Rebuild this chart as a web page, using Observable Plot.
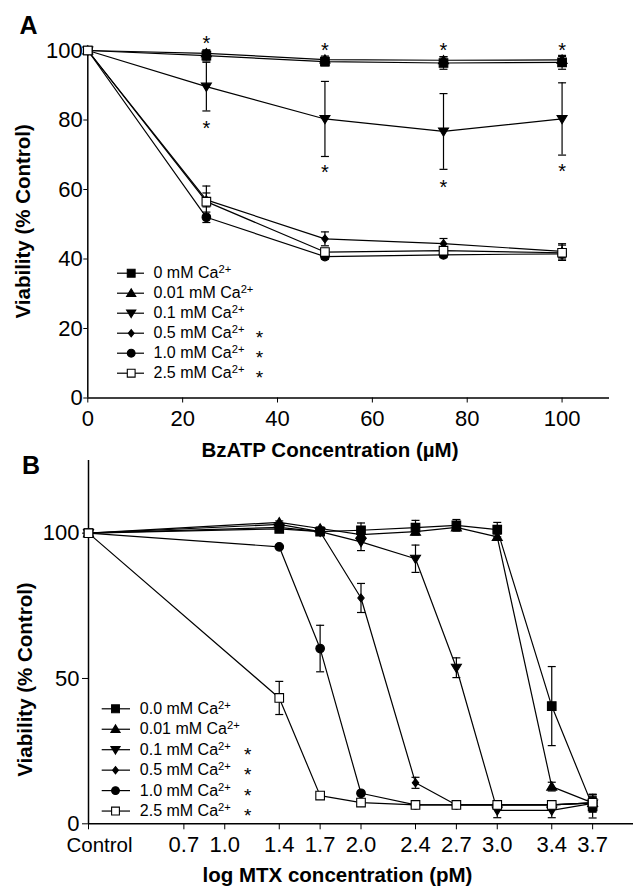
<!DOCTYPE html>
<html><head><meta charset="utf-8">
<script src="https://cdn.jsdelivr.net/npm/d3@7"></script>
<script src="https://cdn.jsdelivr.net/npm/@observablehq/plot@0.6"></script>
<style>
body{margin:0;background:#fff;}
#wrap{position:relative;width:635px;height:889px;overflow:hidden;background:#fff;}
#wrap svg{position:absolute;left:0;}
</style></head><body><div id="wrap"></div>
<script>
// ---------- Panel A data ----------
const bzatpConc = [0, 25, 50, 75, 100];
const seriesA = ["0 mM Ca2+", "0.01 mM Ca2+", "0.1 mM Ca2+", "0.5 mM Ca2+", "1.0 mM Ca2+", "2.5 mM Ca2+"];
const sigA = ["", "", "", "*", "*", "*"];
const viabA_0   = [100, 98.5, 96.8, 96.4, 96.6];
const viabA_001 = [100, 99.2, 97.4, 97.2, 97.3];
const viabA_01  = [100, 89.6, 80.3, 76.7, 80.3];
const viabA_05  = [100, 57.0, 45.8, 44.4, 42.2];
const viabA_10  = [100, 52.0, 40.7, 41.2, 41.5];
const viabA_25  = [100, 56.5, 42.0, 42.4, 41.8];
const errA_0   = [0, 1.5, 1.2, 1.8, 2.0];
const errA_001 = [0, 1.0, 1.0, 1.0, 1.0];
const errA_01  = [0, 7.0, 10.8, 10.9, 10.4];
const errA_05  = [0, 2.0, 2.0, 1.5, 2.2];
const errA_10  = [0, 1.5, 0.8, 0.8, 1.0];
const errA_25  = [0, 4.5, 1.0, 1.0, 2.2];
const starA_x = [25, 50, 75, 100, 25, 50, 75, 100];
const starA_y = [103.5, 101.5, 101.5, 101.5, 79, 66.4, 62.1, 66.7];
const ticksA_x = [0, 20, 40, 60, 80, 100];
const ticksA_y = [0, 20, 40, 60, 80, 100];

// ---------- Panel B data ----------
const logMtx = [0, 1.4, 1.7, 2.0, 2.4, 2.7, 3.0, 3.4, 3.7];
const seriesB = ["0.0 mM Ca2+", "0.01 mM Ca2+", "0.1 mM Ca2+", "0.5 mM Ca2+", "1.0 mM Ca2+", "2.5 mM Ca2+"];
const sigB = ["", "", "*", "*", "*", "*"];
const viabB_0   = [100, 101.5, 100.5, 101.0, 101.9, 102.7, 101.2, 40.5, 6.0];
const viabB_001 = [100, 103.7, 101.6, 99.5, 100.5, 102.0, 98.7, 12.8, 7.2];
const viabB_01  = [100, 102.0, 100.5, 97.0, 91.2, 53.7, 4.6, 4.6, 7.0];
const viabB_05  = [100, 103.0, 100.5, 77.7, 14.1, 6.5, 6.5, 6.5, 7.2];
const viabB_10  = [100, 95.3, 60.3, 10.5, 6.5, 6.5, 6.5, 6.5, 7.2];
const viabB_25  = [100, 43.3, 9.7, 7.3, 6.5, 6.5, 6.5, 6.5, 7.2];
const errB_0   = [0, 1.0, 1.0, 2.5, 2.5, 2.0, 2.5, 13.6, 4.0];
const errB_001 = [0, 0.5, 0.5, 1.0, 1.0, 1.0, 1.0, 1.5, 3.0];
const errB_01  = [0, 1.0, 1.0, 3.0, 4.7, 3.4, 2.5, 2.5, 3.0];
const errB_05  = [0, 0.5, 0.5, 5.0, 1.9, 1.0, 1.0, 1.0, 2.0];
const errB_10  = [0, 0.5, 8.0, 0.5, 0.5, 0.5, 0.5, 0.5, 2.0];
const errB_25  = [0, 5.7, 0.8, 0.5, 0.5, 0.5, 0.5, 0.5, 2.0];
const ticksB_x = [0, 0.7, 1.0, 1.4, 1.7, 2.0, 2.4, 2.7, 3.0, 3.4, 3.7];
const ticksB_y = [0, 50, 100];

// ---------- symbols ----------
const rOf = size => Math.sqrt(size / Math.PI);
const symSquare = {draw(c, s){ const r = rOf(s); c.rect(-r, -r, 2*r, 2*r); }};
const symTriUp = {draw(c, s){ const r = rOf(s); c.moveTo(0, -0.95*r); c.lineTo(r, 0.7*r); c.lineTo(-r, 0.7*r); c.closePath(); }};
const symTriDown = {draw(c, s){ const r = rOf(s); c.moveTo(0, 0.95*r); c.lineTo(r, -0.7*r); c.lineTo(-r, -0.7*r); c.closePath(); }};
const symDiamond = {draw(c, s){ const r = rOf(s); c.moveTo(0, -r); c.lineTo(0.8*r, 0); c.lineTo(0, r); c.lineTo(-0.8*r, 0); c.closePath(); }};
const symCircle = {draw(c, s){ const r = rOf(s); c.moveTo(r, 0); c.arc(0, 0, r, 0, 2*Math.PI); }};
const symCap = {draw(c, s){ const r = rOf(s); c.moveTo(-r, 0); c.lineTo(r, 0); }};
const markerStyles = [
  {symbol: symSquare, r: 4.3, fill: "#000"},
  {symbol: symTriUp, r: 5, fill: "#000"},
  {symbol: symTriDown, r: 5, fill: "#000"},
  {symbol: symDiamond, r: 4, fill: "#000"},
  {symbol: symCircle, r: 4.3, fill: "#000"},
  {symbol: symSquare, r: 4.3, fill: "#fff"}
];

const FONT = "'Liberation Sans', Arial, Helvetica, sans-serif";

function rowsOf(xs, names, vals, errs) {
  const out = [];
  names.forEach((name, i) => xs.forEach((x, j) => out.push({series: name, idx: i, x, y: vals[i][j], err: errs[i][j]})));
  return out;
}

function makePanel(cfg) {
  const {W, H, ml, mr, mt, mb, xDomain, yDomain} = cfg;
  const xS = d3.scaleLinear(xDomain, [ml, W - mr]);
  const yS = d3.scaleLinear(yDomain, [H - mb, mt]);
  const rows = rowsOf(cfg.xs, cfg.names, cfg.vals, cfg.errs);
  const eb = rows.filter(d => d.err > 0);
  const L = cfg.legend;
  const legendRows = cfg.names.map((n, i) => ({label: n, star: cfg.sig[i], idx: i, y: yS.invert(L.top + L.step * i)}));
  const marks = [
    Plot.ruleX([xDomain[0]], {y1: yDomain[0], y2: yDomain[1], stroke: "#000", strokeWidth: 1.5}),
    Plot.ruleY([yDomain[0]], {x1: xDomain[0], x2: xDomain[1], stroke: "#000", strokeWidth: 1.5}),
    Plot.line(rows, {x: "x", y: "y", z: "series", stroke: "#000", strokeWidth: 1.2}),
    Plot.ruleX(eb, {x: "x", y1: d => d.y - d.err, y2: d => d.y + d.err, stroke: "#000", strokeWidth: 1.2}),
    Plot.dot(eb, {x: "x", y: d => d.y + d.err, symbol: symCap, r: 4, stroke: "#000", strokeWidth: 1.2, fill: "none"}),
    Plot.dot(eb, {x: "x", y: d => d.y - d.err, symbol: symCap, r: 4, stroke: "#000", strokeWidth: 1.2, fill: "none"}),
    // legend sample lines
    Plot.ruleY(legendRows, {y: "y", x1: xS.invert(L.x1), x2: xS.invert(L.x2), stroke: "#000", strokeWidth: 1.2}),
    Plot.text(legendRows, {x: xS.invert(L.text), y: "y", text: "label", textAnchor: "start", fontSize: 16, fill: "#000"}),
    Plot.text(legendRows.filter(d => d.star), {x: xS.invert(L.star), y: "y", text: "star", fontSize: 19, dy: 5, fill: "#000"})
  ];
  markerStyles.forEach((m, i) => {
    marks.push(Plot.dot(rows.filter(d => d.idx === i), {x: "x", y: "y", symbol: m.symbol, r: m.r, fill: m.fill, stroke: "#000", strokeWidth: 1.1}));
    marks.push(Plot.dot(legendRows.filter(d => d.idx === i), {x: xS.invert(L.marker), y: "y", symbol: m.symbol, r: m.r - 0.4, fill: m.fill, stroke: "#000", strokeWidth: 1.1}));
  });
  if (cfg.stars) {
    marks.push(Plot.text(cfg.stars, {x: "x", y: "y", text: () => "*", fontSize: 20, dy: 5, fill: "#000"}));
  }
  // titles
  marks.push(Plot.text([cfg.letter], {frameAnchor: "top-left", textAnchor: "start", lineAnchor: "middle", dx: cfg.letterPos[0] - ml, dy: cfg.letterPos[1] - mt, fontSize: 25, fontWeight: "bold", fill: "#000"}));
  marks.push(Plot.text([cfg.xTitle], {frameAnchor: "bottom", textAnchor: "middle", lineAnchor: "middle", dx: cfg.xTitlePos[0] - (ml + W - mr) / 2, dy: cfg.xTitlePos[1] - (H - mb), fontSize: 20.5, fontWeight: "bold", fill: "#000"}));
  marks.push(Plot.text([cfg.yTitle], {frameAnchor: "left", textAnchor: "middle", lineAnchor: "middle", rotate: -90, dx: cfg.yTitlePos[0] - ml, dy: cfg.yTitlePos[1] - (mt + H - mb) / 2, fontSize: 20.5, fontWeight: "bold", fill: "#000"}));

  const svg = Plot.plot({
    width: W, height: H, marginLeft: ml, marginRight: mr, marginTop: mt, marginBottom: mb,
    style: {background: "transparent", fontFamily: FONT, fontSize: "22px", color: "#000", overflow: "visible"},
    x: {domain: xDomain, ticks: cfg.xTicks, tickFormat: cfg.xFormat, tickSize: cfg.xTickSize, tickPadding: cfg.xTickPadding, label: null},
    y: {domain: yDomain, ticks: cfg.yTicks, tickFormat: d => String(d), tickSize: cfg.yTickSize, tickPadding: cfg.yTickPadding, label: null},
    marks
  });
  svg.style.top = cfg.top + "px";
  // superscripts for Ca2+
  svg.querySelectorAll("text").forEach(t => {
    const s = t.textContent;
    if (s.endsWith("Ca2+") && t.childElementCount === 0) {
      t.textContent = s.slice(0, -2);
      const ts = document.createElementNS("http://www.w3.org/2000/svg", "tspan");
      ts.setAttribute("dy", "-0.45em");
      ts.setAttribute("font-size", "70%");
      ts.textContent = "2+";
      t.appendChild(ts);
    }
    if (s === "Control") { t.setAttribute("dx", "11"); t.setAttribute("font-size", "20.5"); t.setAttribute("y", "15"); }
  });
  return svg;
}

const wrap = document.getElementById("wrap");
wrap.appendChild(makePanel({
  top: 0, W: 635, H: 470, ml: 87.3, mr: 26, mt: 50, mb: 72.5,
  xDomain: [0, 110], yDomain: [0, 100],
  xs: bzatpConc, names: seriesA, sig: sigA,
  vals: [viabA_0, viabA_001, viabA_01, viabA_05, viabA_10, viabA_25],
  errs: [errA_0, errA_001, errA_01, errA_05, errA_10, errA_25],
  stars: starA_x.map((x, i) => ({x, y: starA_y[i]})),
  xTicks: ticksA_x, xFormat: d => String(d), xTickSize: 5, xTickPadding: 7,
  yTicks: ticksA_y, yTickSize: 4, yTickPadding: 1,
  legend: {top: 272.7, step: 20, x1: 117, x2: 144, marker: 130.7, text: 153, star: 259},
  letter: "A", letterPos: [19, 25],
  xTitle: "BzATP Concentration (µM)", xTitlePos: [329.5, 450.3],
  yTitle: "Viability (% Control)", yTitlePos: [22.6, 220.8]
}));
wrap.appendChild(makePanel({
  top: 440, W: 635, H: 449, ml: 88, mr: 2, mt: 20, mb: 65.7,
  xDomain: [0, 4], yDomain: [0, 125],
  xs: logMtx, names: seriesB, sig: sigB,
  vals: [viabB_0, viabB_001, viabB_01, viabB_05, viabB_10, viabB_25],
  errs: [errB_0, errB_001, errB_01, errB_05, errB_10, errB_25],
  stars: null,
  xTicks: ticksB_x, xFormat: d => d === 0 ? "Control" : d.toFixed(1), xTickSize: 6, xTickPadding: 7,
  yTicks: ticksB_y, yTickSize: 6, yTickPadding: 3,
  legend: {top: 268.3, step: 20.45, x1: 101.7, x2: 130, marker: 115, text: 139.3, star: 247.3},
  letter: "B", letterPos: [21.5, 25.6],
  xTitle: "log MTX concentration (pM)", xTitlePos: [337, 435.4],
  yTitle: "Viability (% Control)", yTitlePos: [24.9, 239]
}));
</script></body></html>
